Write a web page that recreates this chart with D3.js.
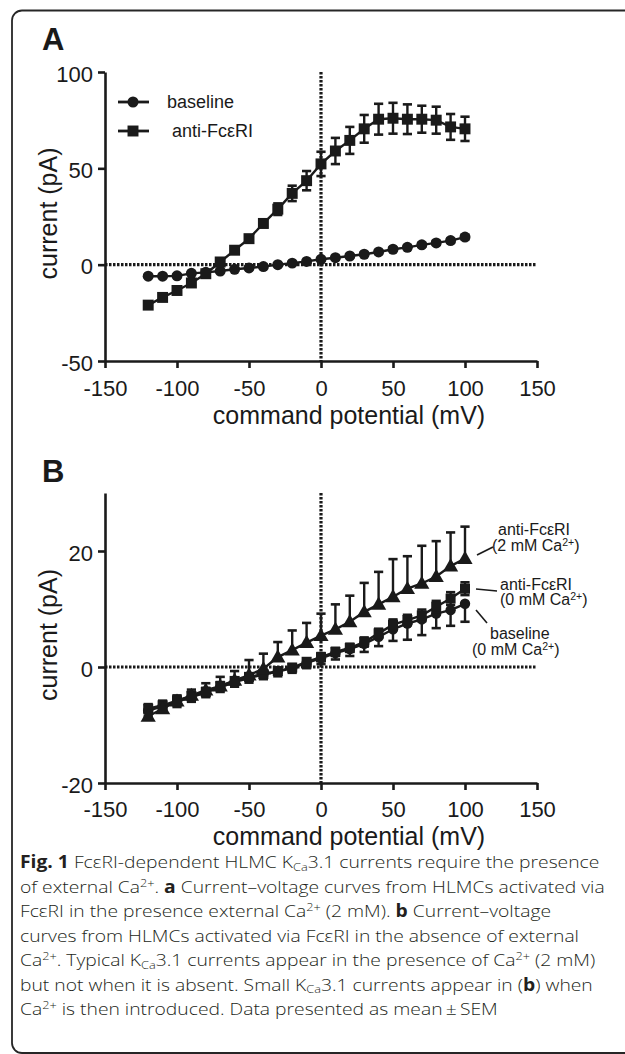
<!DOCTYPE html>
<html><head><meta charset="utf-8">
<script src="https://cdn.jsdelivr.net/npm/d3@7"></script>
<style>body{margin:0;background:#fff}svg{display:block}</style>
</head><body>
<svg id="c" width="625" height="1054"></svg>
<script>
// ---------- data ----------
const voltages = [-120,-110,-100,-90,-80,-70,-60,-50,-40,-30,-20,-10,0,10,20,30,40,50,60,70,80,90,100];
const xTicks = [-150,-100,-50,0,50,100,150];
const yTicksA = [-50,0,50,100];
const yTicksB = [-20,0,20];

// Panel A
const aBaseline    = [-6,-6,-5.8,-4.5,-4,-3.3,-2.4,-1.7,-1,0,0.8,1.7,2.8,3.6,4.5,5.4,6.6,8,9,10.3,11.3,12.5,14.3];
const aBaselineErr = [0.6,0.6,0.6,0.6,0.6,0.6,0.6,0.6,0.6,0.6,0.6,0.6,0.7,0.7,0.7,0.8,0.8,0.9,0.9,1,1,1,1.1];
const aAnti        = [-21,-17,-13.4,-9.5,-4.7,1.4,7.5,13.5,21.4,28.8,37,43.6,52.3,59,64.5,70.5,75.5,76,75.5,75.5,75,71.5,70.5];
const aAntiErr     = [1,1,1,1,1,1,1,1.5,2,3,4,5,6.3,6.8,7,7.2,8,8,7.7,7,7,6.7,6.3];

// Panel B
const bAnti2      = [-8.5,-7.2,-5.9,-4.9,-4,-3.3,-2.3,-1.4,-0.3,1.7,2.9,4.2,5.4,6.5,7.8,9.5,10.8,12.1,13.5,14.4,15.6,17.4,18.7];
const bAnti2Err   = [1,1,1,1,1.2,1.6,1.6,2.6,2.6,2.6,3.4,3.4,3.8,4.3,4.5,5,5.6,6.5,5.6,6.5,6.1,5.8,5.5];
const bAnti0      = [-7.2,-6.6,-5.8,-5,-4.3,-3.3,-2.4,-1.7,-1.2,-0.7,-0.1,0.9,1.7,2.6,3.3,4.3,5.8,7.3,8.1,8.9,10.4,11.8,13.5];
const bAnti0Err   = [0.8,0.8,0.8,0.7,0.7,0.7,0.6,0.6,0.6,0.6,0.6,0.6,0.7,0.7,0.7,0.8,0.8,0.9,0.9,1,1,1.1,1.1];
const bBaseline   = [-7.5,-6.8,-6,-5.2,-4.4,-3.5,-2.6,-1.9,-1.3,-0.8,-0.2,0.7,1.5,2.4,3.1,4.0,5.2,6.5,7.5,8.2,9.2,9.8,10.9];
const bBaselineErr= [1,0.9,0.9,0.8,0.8,0.8,0.8,0.8,0.8,0.8,0.8,0.9,1,1.1,1.2,1.4,1.6,2,2.8,2.7,2.5,2.7,3.1];

const legendA = ["baseline", "anti-Fc\u03b5RI"];
const caption = [
  "[b]Fig. 1[/b] Fc\u03b5RI-dependent HLMC K_{Ca}3.1 currents require the presence",
  "of external Ca^{2+}. [b]a[/b] Current\u2013voltage curves from HLMCs activated via",
  "Fc\u03b5RI in the presence external Ca^{2+} (2 mM). [b]b[/b] Current\u2013voltage",
  "curves from HLMCs activated via Fc\u03b5RI in the absence of external",
  "Ca^{2+}. Typical K_{Ca}3.1 currents appear in the presence of Ca^{2+} (2 mM)",
  "but not when it is absent. Small K_{Ca}3.1 currents appear in ([b]b[/b]) when",
  "Ca^{2+} is then introduced. Data presented as mean\u2009\u00b1\u2009SEM"
];

// ---------- drawing ----------
const svg = d3.select("#c");
const INK = "#1a1a1a";
const AX_FONT = "Liberation Sans, Arial, sans-serif";

svg.append("path")
  .attr("d","M625,10.5 H22 A10,10 0 0 0 12,20.5 V1043 A10,10 0 0 0 22,1053 H625")
  .attr("fill","none").attr("stroke","#262626").attr("stroke-width",1.8);

function panel(opts){
  const x = d3.scaleLinear().domain([-150,150]).range([105,537]);
  const y = d3.scaleLinear().domain(opts.yDomain).range(opts.yRange);
  const g = svg.append("g");
  g.append("text").attr("x",42).attr("y",opts.letterY).text(opts.letter)
    .attr("font-family",AX_FONT).attr("font-weight","bold").attr("font-size",31).attr("fill",INK);
  g.append("line").attr("x1",x(-150)).attr("x2",x(150)).attr("y1",y(0)).attr("y2",y(0))
    .attr("stroke",INK).attr("stroke-width",3.2).attr("stroke-dasharray","2.5 1.5");
  g.append("line").attr("x1",x(0)).attr("x2",x(0)).attr("y1",opts.yRange[1]).attr("y2",opts.yRange[0])
    .attr("stroke",INK).attr("stroke-width",3.2).attr("stroke-dasharray","2.5 1.5");
  const fmt = d => String(d);
  const xa = g.append("g").attr("transform",`translate(0,${opts.yRange[0]})`)
    .call(d3.axisBottom(x).tickValues(xTicks).tickSize(7).tickSizeOuter(0).tickFormat(fmt));
  const ya = g.append("g").attr("transform",`translate(${x(-150)},0)`)
    .call(d3.axisLeft(y).tickValues(opts.yTicks).tickSize(7).tickSizeOuter(0).tickPadding(5).tickFormat(fmt));
  [xa,ya].forEach(a=>{
    a.selectAll("path,line").attr("stroke",INK).attr("stroke-width",2.6);
    a.selectAll("text").attr("font-family",AX_FONT).attr("font-size",22).attr("fill",INK);
  });
  xa.selectAll("text").attr("y",opts.tickLabelOff).attr("dy",0);
  ya.selectAll("text").attr("dy","0.42em");
  g.append("text").attr("x",349).attr("y",opts.yRange[0]+opts.titleOff).attr("text-anchor","middle")
    .attr("font-family",AX_FONT).attr("font-size",25).attr("fill",INK).text("command potential (mV)");
  g.append("text").attr("transform",`translate(57,${(opts.yRange[0]+opts.yRange[1])/2 - 3}) rotate(-90)`)
    .attr("text-anchor","middle").attr("font-family",AX_FONT).attr("font-size",25).attr("fill",INK).text("current (pA)");
  return {g,x,y};
}

function series(p, vals, errs, shape, size, errMode){
  const {g,x,y} = p;
  const pts = voltages.map((v,i)=>({v, m:vals[i], e:errs[i]}));
  const sg = g.append("g");
  pts.forEach(d=>{
    const top = y(d.m + (errMode!=="below"? d.e:0));
    const bot = y(d.m - (errMode!=="above"? d.e:0));
    sg.append("line").attr("x1",x(d.v)).attr("x2",x(d.v)).attr("y1",top).attr("y2",bot)
      .attr("stroke",INK).attr("stroke-width",2.4);
    if(errMode!=="below") sg.append("line").attr("x1",x(d.v)-4.6).attr("x2",x(d.v)+4.6).attr("y1",top).attr("y2",top).attr("stroke",INK).attr("stroke-width",2.6);
    if(errMode!=="above") sg.append("line").attr("x1",x(d.v)-4.6).attr("x2",x(d.v)+4.6).attr("y1",bot).attr("y2",bot).attr("stroke",INK).attr("stroke-width",2.6);
  });
  sg.append("path").datum(pts).attr("fill","none").attr("stroke",INK).attr("stroke-width",2.4)
    .attr("d",d3.line().x(d=>x(d.v)).y(d=>y(d.m)));
  const sym = d3.symbol().type(shape).size(size);
  sg.selectAll("path.m").data(pts).join("path").attr("class","m")
    .attr("transform",d=>`translate(${x(d.v)},${y(d.m)+(shape===d3.symbolTriangle?1:0)})`)
    .attr("d",sym).attr("fill",INK);
}

// ---- Panel A ----
const pA = panel({letter:"A", letterY:50, yDomain:[-50,100], yRange:[361,72], yTicks:yTicksA, tickLabelOff:35, titleOff:63});
series(pA, aBaseline, aBaselineErr, d3.symbolCircle, 95, "both");
series(pA, aAnti, aAntiErr, d3.symbolSquare, 120, "both");
const legY = [102,131], legShapes=[d3.symbolCircle,d3.symbolSquare], legSizes=[95,120], legX=[167,172];
legendA.forEach((t,i)=>{
  pA.g.append("line").attr("x1",118).attr("x2",149).attr("y1",legY[i]).attr("y2",legY[i]).attr("stroke",INK).attr("stroke-width",2.8);
  pA.g.append("path").attr("d",d3.symbol().type(legShapes[i]).size(legSizes[i])()).attr("transform",`translate(133,${legY[i]})`).attr("fill",INK);
  pA.g.append("text").attr("x",legX[i]).attr("y",legY[i]).attr("dy","0.35em").attr("font-family",AX_FONT).attr("font-size",18).attr("fill",INK).text(t);
});

// ---- Panel B ----
const pB = panel({letter:"B", letterY:482, yDomain:[-20,30], yRange:[783,493], yTicks:yTicksB, tickLabelOff:34, titleOff:62});
series(pB, bBaseline, bBaselineErr, d3.symbolCircle, 85, "below");
series(pB, bAnti0, bAnti0Err, d3.symbolSquare, 100, "both");
series(pB, bAnti2, bAnti2Err, d3.symbolTriangle, 100, "above");

function richLabel(g, x0, y0, parts, size){
  const t = g.append("text").attr("x",x0).attr("y",y0).attr("font-family",AX_FONT).attr("font-size",size).attr("fill",INK);
  parts.forEach(p=>{
    const s = t.append("tspan").text(p.t);
    if(p.sup){ s.attr("font-size",size*0.66).attr("baseline-shift","45%"); }
  });
  return t;
}
const annG = pB.g.append("g");
const annotations = [
  {l1:"anti-Fc\u03b5RI", l2:"(2 mM Ca", x1:498, x2:492, y1:535, y2:551, lead:[477,555,493,547]},
  {l1:"anti-Fc\u03b5RI", l2:"(0 mM Ca", x1:500, x2:500, y1:590, y2:605, lead:[476,589,497,591]},
  {l1:"baseline", l2:"(0 mM Ca", x1:490, x2:472, y1:639, y2:655, lead:[476,610,487,623]}
];
annotations.forEach(a=>{
  richLabel(annG,a.x1,a.y1,[{t:a.l1}],16);
  richLabel(annG,a.x2,a.y2,[{t:a.l2},{t:"2+",sup:true},{t:")"}],16);
  annG.append("line").attr("x1",a.lead[0]).attr("y1",a.lead[1]).attr("x2",a.lead[2]).attr("y2",a.lead[3])
    .attr("stroke",INK).attr("stroke-width",1.6);
});

// ---- caption ----
const capG = svg.append("g");
const CAP_FONT = "'Open Sans', 'Noto Sans', sans-serif";
const capSize = 17;
const capBase = [868,892.5,917,941.5,966,990.5,1015];
function parseRich(s){
  const out=[]; let bold=false; const re=/(\[b\]|\[\/b\]|\^\{[^}]*\}|_\{[^}]*\})/g;
  let last=0,m;
  while((m=re.exec(s))){
    if(m.index>last) out.push({t:s.slice(last,m.index),bold});
    const tok=m[0];
    if(tok==="[b]") bold=true; else if(tok==="[/b]") bold=false;
    else if(tok[0]==="^") out.push({t:tok.slice(2,-1),bold,sup:true});
    else out.push({t:tok.slice(2,-1),bold,sub:true});
    last=re.lastIndex;
  }
  if(last<s.length) out.push({t:s.slice(last),bold});
  return out;
}
const capTexts = caption.map((line,i)=>{
  const t = capG.append("text").attr("y",0).attr("x",0)
    .attr("font-family",CAP_FONT).attr("font-size",capSize).attr("fill","#231f20").attr("font-weight",300);
  parseRich(line).forEach(p=>{
    const s=t.append("tspan").text(p.t);
    if(p.bold) s.attr("font-weight",700);
    if(p.sup) s.attr("font-size",capSize*0.66).attr("baseline-shift","50%");
    if(p.sub) s.attr("font-size",capSize*0.66).attr("baseline-shift","-22%");
  });
  return t;
});
const w2 = capTexts[1].node().getComputedTextLength();
const sx = 585 / w2;
capTexts.forEach((t,i)=>t.attr("transform",`translate(20,${capBase[i]}) scale(${sx},1)`));
</script>
</body></html>
